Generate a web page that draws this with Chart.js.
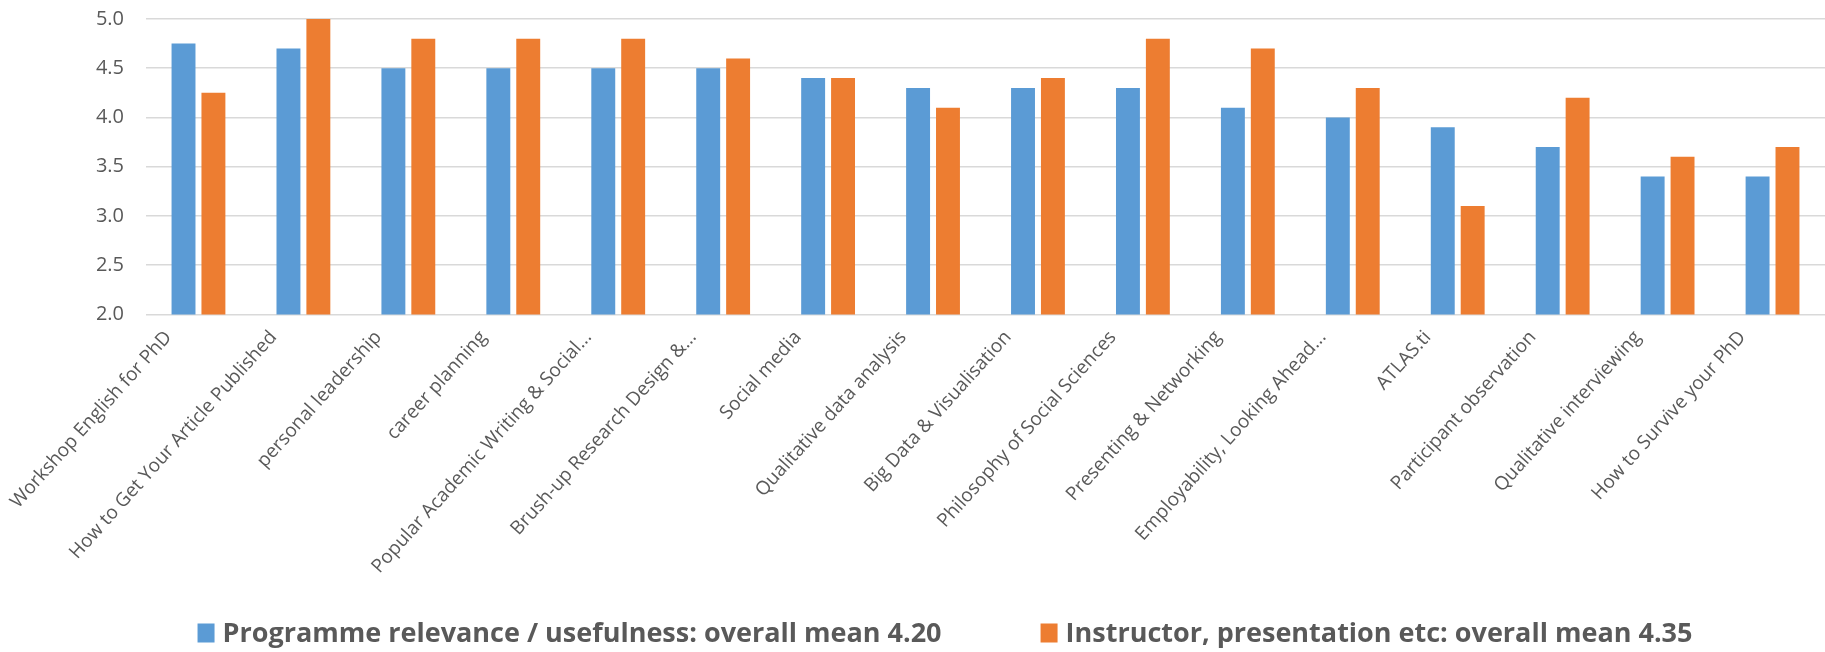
<!DOCTYPE html>
<html>
<head>
<meta charset="utf-8">
<title>Course evaluation</title>
<script src="https://cdn.jsdelivr.net/npm/chart.js@4.4.1/dist/chart.umd.min.js"></script>
<style>
  html, body { margin: 0; padding: 0; background: #fff; }
  #wrap { position: relative; width: 1825px; height: 652px; }
</style>
</head>
<body>
<div id="wrap"><canvas id="chart"></canvas></div>
<script>
// ---- data ----
const courses = [
  'Workshop English for PhD',
  'How to Get Your Article Published',
  'personal leadership',
  'career planning',
  'Popular Academic Writing & Social...',
  'Brush-up Research Design &...',
  'Social media',
  'Qualitative data analysis',
  'Big Data & Visualisation',
  'Philosophy of Social Sciences',
  'Presenting & Networking',
  'Employability, Looking Ahead...',
  'ATLAS.ti',
  'Participant observation',
  'Qualitative interviewing',
  'How to Survive your PhD'
];
const relevance = [4.75, 4.7, 4.5, 4.5, 4.5, 4.5, 4.4, 4.3, 4.3, 4.3, 4.1, 4.0, 3.9, 3.7, 3.4, 3.4];
const instructor = [4.25, 5.0, 4.8, 4.8, 4.8, 4.6, 4.4, 4.1, 4.4, 4.8, 4.7, 4.3, 3.1, 4.2, 3.6, 3.7];
const seriesNames = [
  'Programme relevance / usefulness: overall mean 4.20',
  'Instructor, presentation etc: overall mean 4.35'
];

const GREY = '#595959';
const GRID = '#d9d9d9';

// legend drawn under the axis labels, items spaced widely like the original
const bottomLegend = {
  id: 'bottomLegend',
  afterDraw(chart) {
    const { ctx } = chart;
    const boxW = 17, boxH = 19, textGap = 8, itemGap = 99;
    const centerX = 945, midY = 633;
    ctx.save();
    ctx.font = "bold 27px 'Open Sans', sans-serif";
    ctx.textBaseline = 'middle';
    const items = chart.data.datasets.map(ds => ({
      text: ds.label,
      color: ds.backgroundColor,
      w: boxW + textGap + ctx.measureText(ds.label).width
    }));
    const total = items.reduce((s, it) => s + it.w, 0) + itemGap * (items.length - 1);
    let x = centerX - total / 2;
    items.forEach(it => {
      ctx.fillStyle = it.color;
      ctx.fillRect(x, midY - boxH / 2, boxW, boxH);
      ctx.fillStyle = GREY;
      ctx.fillText(it.text, x + boxW + textGap, midY + 1);
      x += it.w + itemGap;
    });
    ctx.restore();
  }
};

new Chart(document.getElementById('chart'), {
  type: 'bar',
  data: {
    labels: courses,
    datasets: [
      {
        label: seriesNames[0],
        data: relevance,
        backgroundColor: '#5b9bd5',
        categoryPercentage: 0.57,
        barPercentage: 0.8
      },
      {
        label: seriesNames[1],
        data: instructor,
        backgroundColor: '#ed7d31',
        categoryPercentage: 0.57,
        barPercentage: 0.8
      }
    ]
  },
  options: {
    responsive: true,
    maintainAspectRatio: false,
    animation: false,
    layout: { padding: { top: 19, left: 94, right: 0, bottom: 70 } },
    plugins: {
      legend: { display: false },
      tooltip: { enabled: false }
    },
    scales: {
      x: {
        grid: { display: false },
        border: { display: false },
        ticks: {
          color: GREY,
          font: { family: "'Open Sans', sans-serif", size: 19 },
          maxRotation: 48,
          minRotation: 48,
          autoSkip: false,
          padding: 4,
          labelOffset: -30
        }
      },
      y: {
        min: 2,
        max: 5,
        // invisible tick marks keep the labels away from the plot without padding the top
        grid: { color: GRID, lineWidth: 1.5, drawTicks: true, tickLength: 19, tickColor: 'rgba(0,0,0,0)' },
        border: { display: false },
        afterFit(scale) { scale.width = 52; },
        ticks: {
          stepSize: 0.5,
          color: GREY,
          font: { family: "'Open Sans', sans-serif", size: 20 },
          padding: 3,
          callback: v => v.toFixed(1)
        }
      }
    }
  },
  plugins: [bottomLegend]
});
</script>
</body>
</html>
